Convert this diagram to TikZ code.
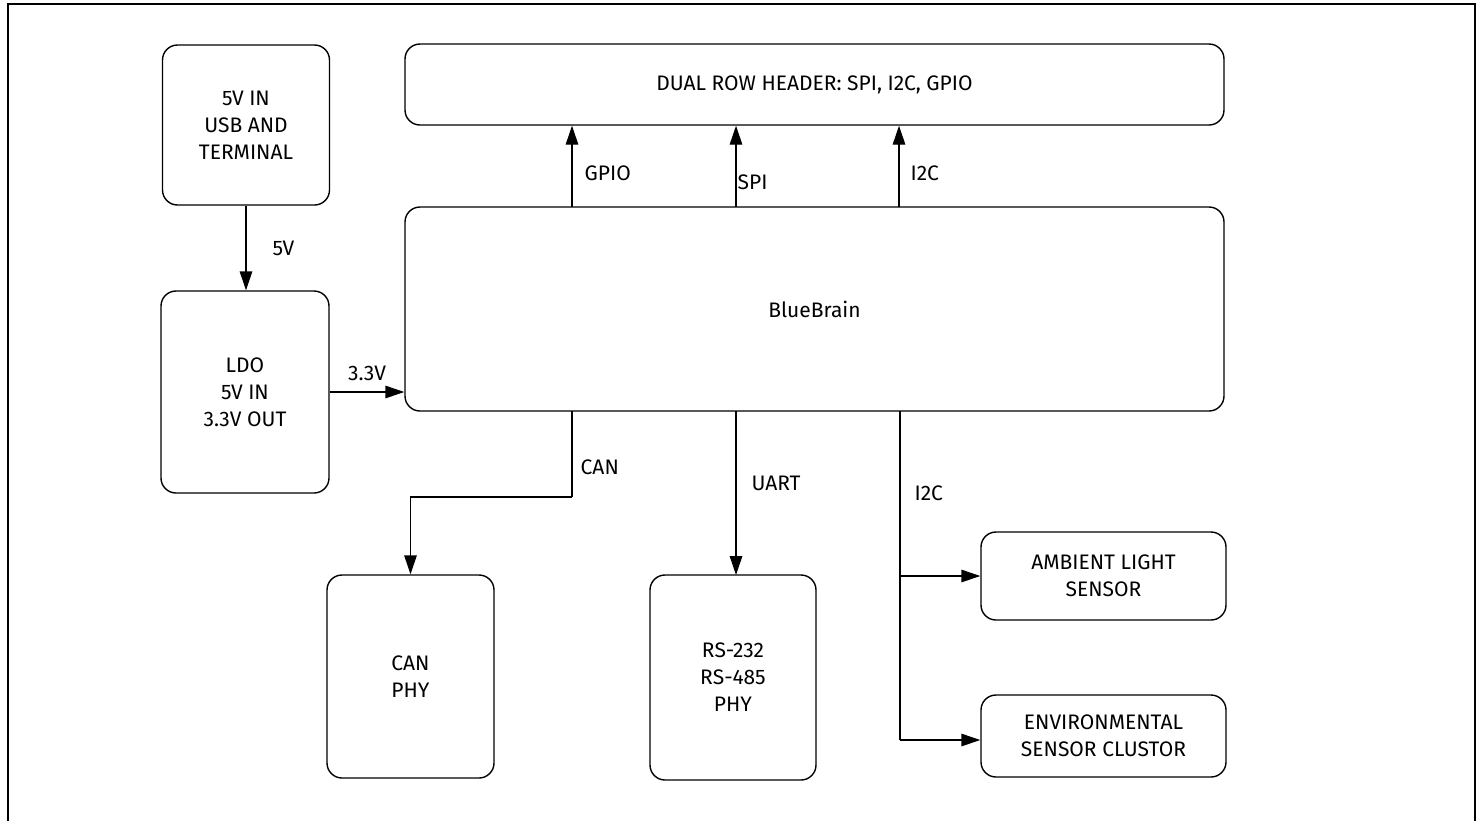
\documentclass[tikz,border=0pt]{standalone}
\usepackage{fontspec}
\setmainfont{Fira Sans}
\usetikzlibrary{arrows.meta}
\begin{document}
\begin{tikzpicture}[x=1pt,y=-1pt,
  blk/.style={draw,line width=1.4pt,rounded corners=15pt,align=center,inner sep=0pt,font=\fontsize{21}{27}\selectfont},
  conn/.style={line width=1.4pt,-{Triangle[length=19pt,width=12.5pt]}},
  wire/.style={line width=1.4pt},
  lbl/.style={font=\fontsize{21}{27}\selectfont,inner sep=0pt}]
\useasboundingbox (0,0) rectangle (1483,820);
\draw[line width=2.6pt] (8,822) -- (8,4) -- (1475,4) -- (1475,822);
% boxes
\node[blk,minimum width=167pt,minimum height=160pt] (usb) at (246,125) {5V IN\\USB AND\\TERMINAL};
\node[blk,minimum width=168pt,minimum height=202pt] (ldo) at (245,392) {LDO\\5V IN\\3.3V OUT};
\node[blk,minimum width=819pt,minimum height=81pt] (hdr) at (814.5,84.5) {DUAL ROW HEADER: SPI, I2C, GPIO};
\node[blk,minimum width=819pt,minimum height=204pt] (bb) at (814.5,309) {BlueBrain};
\node[blk,minimum width=167pt,minimum height=203pt] (can) at (410.5,676.5) {CAN\\PHY};
\node[blk,minimum width=166pt,minimum height=205pt] (rs) at (733,677.5) {RS-232\\RS-485\\PHY};
\node[blk,minimum width=245pt,minimum height=88pt] (als) at (1103.5,576) {AMBIENT LIGHT\\SENSOR};
\node[blk,minimum width=245pt,minimum height=82pt] (env) at (1103.5,736) {ENVIRONMENTAL\\SENSOR CLUSTOR};
% connectors
\draw[conn] (usb.south) -- (usb.south |- ldo.north) node[lbl,midway,right=26pt] {5V};
\draw[conn] (ldo.east) -- (bb.west |- ldo.east) node[lbl,midway,above=11pt] {3.3V};
\coordinate (g0) at (572,207);
\coordinate (s0) at (736,207);
\coordinate (i0) at (899,207);
\draw[conn] (g0) -- (g0 |- hdr.south) node[lbl,pos=0.42,right=12pt] {GPIO};
\draw[conn] (s0) -- (s0 |- hdr.south) node[lbl,pos=0.3,right=1pt] {SPI};
\draw[conn] (i0) -- (i0 |- hdr.south) node[lbl,pos=0.42,right=11pt] {I2C};
\coordinate (cb) at (572,411);
\coordinate (ck) at (572,497);
\draw[wire] (cb) -- (ck) node[lbl,pos=0.65,right=8pt] {CAN};
\draw[conn] (ck) -| (can.north);
\draw[conn] (736,411) -- (736,575) node[lbl,pos=0.44,right=15pt] {UART};
\coordinate (ib) at (900,411);
\coordinate (i1) at (900,576);
\coordinate (i2) at (900,740);
\draw[wire] (ib) -- (i2) node[lbl,pos=0.25,right=14pt] {I2C};
\draw[conn] (i1) -- (als.west |- i1);
\draw[conn] (i2) -- (env.west |- i2);
\end{tikzpicture}
\end{document}
